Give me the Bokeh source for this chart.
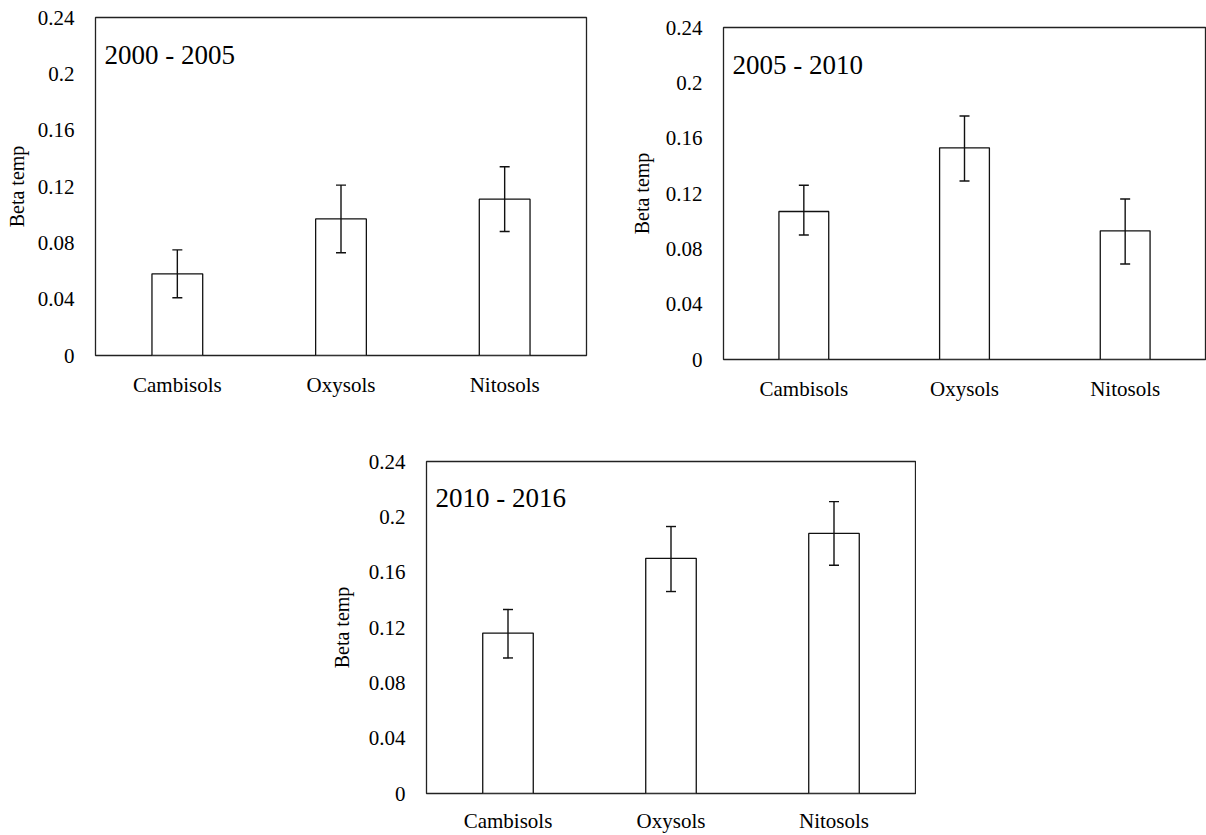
from bokeh.plotting import figure
from bokeh.models import (ColumnDataSource, Whisker, TeeHead, Label, Range1d,
                          FactorRange, FixedTicker, Spacer)
from bokeh.layouts import row, column
from bokeh.embed import file_html
from bokeh.resources import INLINE

categories = ["Cambisols", "Oxysols", "Nitosols"]
periods = ["2000 - 2005", "2005 - 2010", "2010 - 2016"]

beta_2000_2005 = [0.058, 0.097, 0.111]
upper_2000_2005 = [0.075, 0.121, 0.134]
lower_2000_2005 = [0.041, 0.073, 0.088]

beta_2005_2010 = [0.107, 0.153, 0.093]
upper_2005_2010 = [0.126, 0.176, 0.116]
lower_2005_2010 = [0.090, 0.129, 0.069]

beta_2010_2016 = [0.116, 0.170, 0.188]
upper_2010_2016 = [0.133, 0.193, 0.211]
lower_2010_2016 = [0.098, 0.146, 0.165]

y_ticks = [0, 0.04, 0.08, 0.12, 0.16, 0.2, 0.24]
y_tick_labels = ["0", "0.04", "0.08", "0.12", "0.16", "0.2", "0.24"]
y_label = "Beta temp"

FONT = "Liberation Serif"


def make_panel(title, vals, up, lo, w, h, bl, br, bt, bb, x_standoff, ylab_standoff):
    fw = w - bl - br
    fh = h - bt - bb
    p = figure(x_range=FactorRange(factors=categories, range_padding=0),
               y_range=Range1d(0, 0.24),
               width=w, height=h,
               min_border_left=bl, min_border_right=br,
               min_border_top=bt, min_border_bottom=bb,
               output_backend="svg", toolbar_location=None,
               background_fill_color="white", border_fill_color="white")
    p.grid.visible = False
    p.outline_line_color = "#222222"
    p.outline_line_width = 1.3
    p.outline_line_alpha = 1.0

    src = ColumnDataSource(dict(cat=categories, val=vals, up=up, lo=lo))
    p.vbar(x="cat", top="val", bottom=0, width=0.31, source=src,
           fill_color="white", line_color="#111111", line_width=1.3)
    wh = Whisker(base="cat", upper="up", lower="lo", source=src,
                 line_color="#111111", line_width=1.4, level="overlay",
                 upper_head=TeeHead(size=10, line_color="#111111", line_width=1.4),
                 lower_head=TeeHead(size=10, line_color="#111111", line_width=1.4))
    p.add_layout(wh)

    ya = p.yaxis[0]
    ya.ticker = FixedTicker(ticks=y_ticks)
    ya.major_label_overrides = {t: l for t, l in zip(y_ticks, y_tick_labels)}
    ya.axis_line_color = None
    ya.major_tick_line_color = None
    ya.minor_tick_line_color = None
    ya.major_tick_out = 0
    ya.major_tick_in = 0
    ya.major_label_standoff = 21
    ya.major_label_text_font = FONT
    ya.major_label_text_font_size = "21px"
    ya.major_label_text_color = "black"
    ya.axis_label = y_label
    ya.axis_label_text_font = FONT
    ya.axis_label_text_font_size = "20px"
    ya.axis_label_text_font_style = "normal"
    ya.axis_label_text_color = "black"
    ya.axis_label_standoff = ylab_standoff

    xa = p.xaxis[0]
    xa.axis_line_color = None
    xa.major_tick_line_color = None
    xa.minor_tick_line_color = None
    xa.major_tick_out = 0
    xa.major_tick_in = 0
    xa.major_label_standoff = x_standoff
    xa.major_label_text_font = FONT
    xa.major_label_text_font_size = "21px"
    xa.major_label_text_color = "black"

    lab = Label(x=9 * 3.0 / fw, y=0.24 - 37 * 0.24 / fh, text=title,
                text_font=FONT, text_font_size="27px", text_color="black",
                text_baseline="middle", text_align="left")
    p.add_layout(lab)
    return p


p1 = make_panel(periods[0], beta_2000_2005, upper_2000_2005, lower_2000_2005,
                w=590, h=400, bl=95, br=4, bt=17, bb=45, x_standoff=17, ylab_standoff=7)
p2 = make_panel(periods[1], beta_2005_2010, upper_2005_2010, lower_2005_2010,
                w=616, h=394, bl=133, br=1, bt=17, bb=45, x_standoff=17, ylab_standoff=10)
p3 = make_panel(periods[2], beta_2010_2016, upper_2010_2016, lower_2010_2016,
                w=592, h=431, bl=102, br=1, bt=57, bb=39, x_standoff=15, ylab_standoff=13)

top_row = row(column(p1, Spacer(width=590, height=4), spacing=0),
              column(Spacer(width=616, height=10), p2, spacing=0), spacing=0)
bottom_row = row(Spacer(width=324, height=10), p3, spacing=0)
layout = column(top_row, bottom_row, spacing=0)

open("out.html", "w").write(file_html(layout, INLINE))
